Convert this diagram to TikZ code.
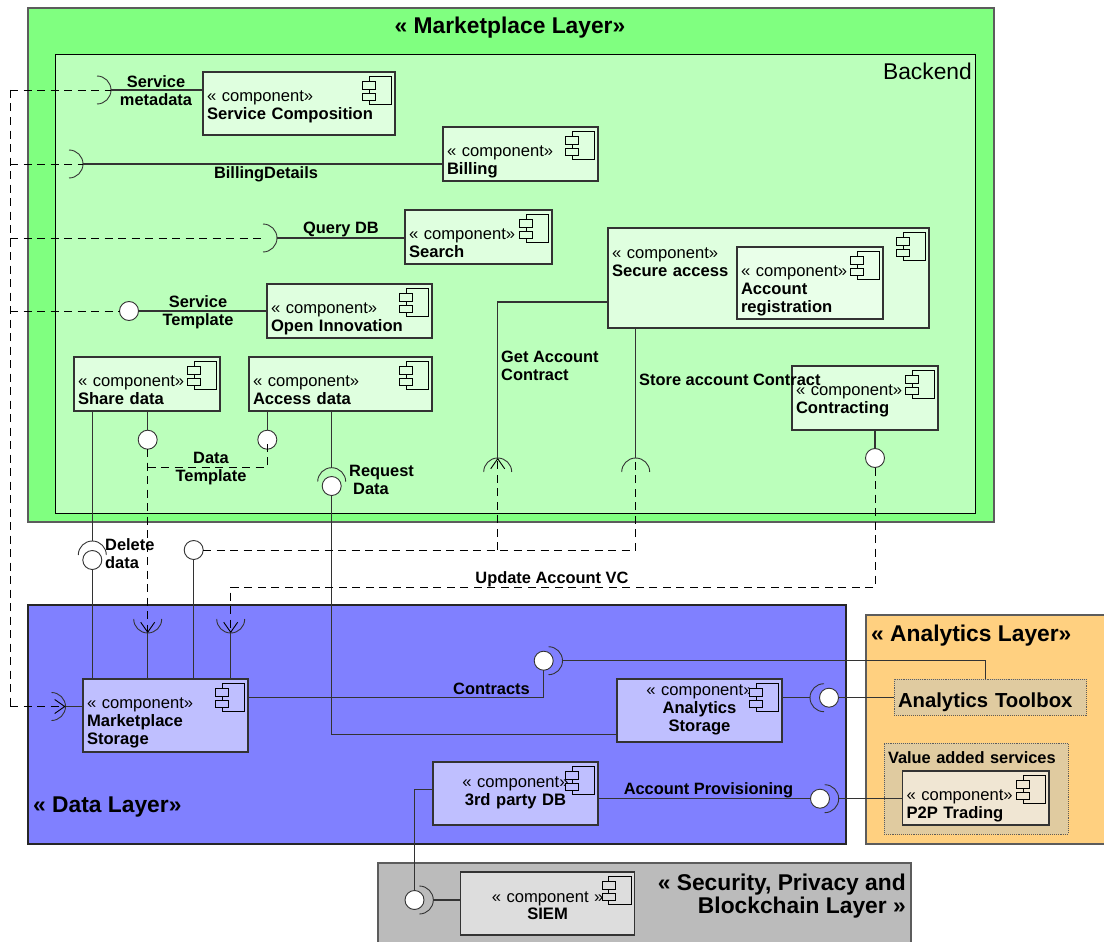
\documentclass[tikz,border=0pt]{standalone}
\usepackage{fontspec}
\setmainfont{Liberation Sans}
\usetikzlibrary{arrows.meta}
\definecolor{marketbg}{HTML}{80FF80}
\definecolor{backendbg}{HTML}{BBFFBB}
\definecolor{compgreen}{HTML}{DFFFDF}
\definecolor{compinner}{HTML}{E9FFE9}
\definecolor{databg}{HTML}{8080FF}
\definecolor{compblue}{HTML}{BFBFFF}
\definecolor{analyticsbg}{HTML}{FFD080}
\definecolor{packbg}{HTML}{E0CBA0}
\definecolor{compsand}{HTML}{F0E6D3}
\definecolor{securitybg}{HTML}{BBBBBB}
\definecolor{compgrey}{HTML}{DDDDDD}
\definecolor{edgegrey}{HTML}{333333}
\tikzset{
  layerbox/.style={draw=edgegrey!80, line width=1.2pt, inner sep=0pt, outer sep=0pt},
  comp/.style n args={3}{draw=edgegrey, line width=1.1pt, inner xsep=4pt, inner ysep=0pt, outer sep=0pt,
    text width=#1pt-8pt, text height=#3pt+.7pt, text depth=#2pt-#3pt-.7pt, align=left,
    font=\fontsize{16.6}{18}\selectfont},
  ball/.style={circle, draw=edgegrey, line width=.9pt, fill=white, minimum size=19pt, inner sep=0pt, outer sep=0pt},
  sockn/.style={circle, minimum size=28pt, inner sep=0pt, outer sep=0pt},
  conn/.style={draw=edgegrey, line width=1.1pt},
  dashconn/.style={draw=black, line width=.9pt, dash pattern=on 8pt off 5.5pt},
  barb/.style={-{Straight Barb[length=10pt,width=14pt]}},
  lbl/.style={font=\fontsize{16.4}{18}\selectfont\bfseries, align=center, inner sep=0pt},
  layertitle/.style={font=\fontsize{22.8}{23}\selectfont\bfseries, inner sep=0pt}
}
\newcommand{\sockarc}[2]{\draw[edgegrey, line width=.9pt] (#1.center) ++(#2-90:14pt) arc[start angle=#2-90, delta angle=180, radius=14pt];}
\newcommand{\compicon}[2]{%
  \draw[black, line width=.8pt] ([shift={(-26pt,-4.7pt)}]#1.north east) rectangle ([shift={(-3.5pt,-32pt)}]#1.north east);
  \draw[black, line width=.8pt, fill=#2] ([shift={(-32.6pt,-9.7pt)}]#1.north east) rectangle ([shift={(-19.3pt,-17pt)}]#1.north east);
  \draw[black, line width=.8pt, fill=#2] ([shift={(-32.6pt,-21pt)}]#1.north east) rectangle ([shift={(-19.3pt,-28pt)}]#1.north east);}
\newcommand{\stereo}{« component»\\}
\begin{document}
\begin{tikzpicture}[x=1pt,y=1pt]
    \useasboundingbox (0,0) rectangle (1104,-942);
    % layers
    \node[layerbox, fill=marketbg, minimum width=966pt, minimum height=514pt] (market) at (511,-265) {};
    \node[layerbox, draw=black, line width=.9pt, fill=backendbg, minimum width=920pt, minimum height=459pt] (backend) at (515,-283.5) {};
    \node[layerbox, draw=black!85, fill=databg, minimum width=818pt, minimum height=239pt] (data) at (437,-724.5) {};
    \node[layerbox, fill=analyticsbg, minimum width=240pt, minimum height=229pt] (analytics) at (986,-729.5) {};
    \node[layerbox, fill=securitybg, minimum width=533pt, minimum height=82pt] (security) at (644.5,-904) {};
    \node[layertitle] (markettitle) at (510,-28) {« Marketplace Layer»};
    \node[font=\fontsize{22.8}{23}\selectfont, inner sep=0pt, anchor=east] (backendtitle) at (972,-71.5) {Backend};
    \node[layertitle, anchor=west] (datatitle) at (33,-807) {« Data Layer»};
    \node[layertitle, anchor=west] (analyticstitle) at (871,-636) {« Analytics Layer»};
    \node[layertitle, anchor=north east, align=right] (securitytitle) at (906,-874) {« Security, Privacy and\\Blockchain Layer »};
    % value added package and its parts
    \node[comp={184}{91}{19.5}, draw=edgegrey!80, densely dotted, line width=.9pt, fill=packbg, font=\fontsize{16.4}{18}\selectfont\bfseries] (value) at (976,-788.5) {Value added services};
    \node[comp={192}{36}{28}, draw=edgegrey!80, densely dotted, line width=.9pt, fill=packbg, font=\fontsize{20.3}{22}\selectfont\bfseries] (toolbox) at (990,-697) {Analytics Toolbox};
    % components
    \node[comp={192}{63}{28.5}, fill=compgreen] (compose) at (299,-103.5) {\stereo\textbf{Service Composition}};
    \node[comp={155}{54}{28.5}, fill=compgreen] (billing) at (520.5,-154) {\stereo\textbf{Billing}};
    \node[comp={147}{54}{28.5}, fill=compgreen] (search) at (478.5,-237) {\stereo\textbf{Search}};
    \node[comp={321}{100}{29.5}, fill=compgreen] (secure) at (768.5,-278) {\stereo\textbf{Secure access}};
    \node[comp={146}{72}{28.5}, fill=compinner] (accreg) at (810,-283) {\stereo\textbf{Account}\\\textbf{registration}};
    \node[comp={165}{54}{28.5}, fill=compgreen] (openinn) at (349.5,-311) {\stereo\textbf{Open Innovation}};
    \node[comp={146}{54}{28.5}, fill=compgreen] (share) at (147,-384) {\stereo\textbf{Share data}};
    \node[comp={183}{54}{28.5}, fill=compgreen] (access) at (340.5,-384) {\stereo\textbf{Access data}};
    \node[comp={146}{64}{28.5}, fill=compgreen] (contracting) at (865,-398) {\stereo\textbf{Contracting}};
    \node[comp={165}{73}{28.5}, fill=compblue] (mstorage) at (165.5,-715.5) {\stereo\textbf{Marketplace}\\\textbf{Storage}};
    \node[comp={165}{63}{15.5}, fill=compblue, align=center] (astorage) at (699.5,-710.5) {\stereo\textbf{Analytics}\\\textbf{Storage}};
    \node[comp={165}{63}{24.5}, fill=compblue, align=center] (thirdparty) at (515.5,-793.5) {\stereo\textbf{3rd party DB}};
    \node[comp={174}{63}{29.5}, fill=compgrey, align=center] (siem) at (547.6,-903.5) {« component »\\[-1pt]\textbf{SIEM}};
    \node[comp={146.5}{54}{28.5}, fill=compsand] (ptwop) at (975.75,-798) {\stereo\textbf{P2P Trading}};
    \compicon{compose}{compgreen}
    \compicon{billing}{compgreen}
    \compicon{search}{compgreen}
    \compicon{secure}{compgreen}
    \compicon{accreg}{compinner}
    \compicon{openinn}{compgreen}
    \compicon{share}{compgreen}
    \compicon{access}{compgreen}
    \compicon{contracting}{compgreen}
    \compicon{mstorage}{compblue}
    \compicon{astorage}{compblue}
    \compicon{thirdparty}{compblue}
    \compicon{siem}{compgrey}
    \compicon{ptwop}{compsand}
    % sockets
    \node[sockn] (smeta) at (97,-90) {};
    \node[sockn] (sbill) at (69,-164) {};
    \node[sockn] (squery) at (263,-238) {};
    \node[sockn] (sdelete) at (92.3,-555) {};
    \node[sockn] (srequest) at (331.7,-481.7) {};
    \node[sockn] (sgetacc) at (497.7,-472) {};
    \node[sockn] (sstore) at (635.7,-472) {};
    \node[sockn] (smarket) at (51.5,-706.5) {};
    \node[sockn] (sshare) at (147.7,-619) {};
    \node[sockn] (supdate) at (230.7,-619) {};
    \node[sockn] (scontr) at (548.5,-660.7) {};
    \node[sockn] (sanalyt) at (824,-697.7) {};
    \node[sockn] (sprov) at (824.7,-798.7) {};
    \node[sockn] (ssiem) at (419.3,-900) {};
    \sockarc{smeta}{0}
    \sockarc{sbill}{0}
    \sockarc{squery}{0}
    \sockarc{sdelete}{90}
    \sockarc{srequest}{90}
    \sockarc{sgetacc}{90}
    \sockarc{sstore}{90}
    \sockarc{smarket}{0}
    \sockarc{sshare}{-90}
    \sockarc{supdate}{-90}
    \sockarc{scontr}{0}
    \sockarc{sanalyt}{180}
    \sockarc{sprov}{0}
    \sockarc{ssiem}{0}
    % balls
    \node[ball] (btemplate) at (129,-311) {};
    \node[ball] (bshare) at (147.7,-439.7) {};
    \node[ball] (baccess) at (267.3,-439.7) {};
    \node[ball] (bdelete) at (92.3,-560) {};
    \node[ball] (brequest) at (331.7,-486) {};
    \node[ball] (bsecure) at (193.7,-550) {};
    \node[ball] (bcontract) at (875,-458) {};
    \node[ball] (bcontr) at (543.7,-660.7) {};
    \node[ball] (banalyt) at (829,-697.7) {};
    \node[ball] (bprov) at (820,-798.7) {};
    \node[ball] (bsiem) at (414.5,-900) {};
    % free ends of the dashed lines
    \coordinate (bus1) at (10,-90);
    \coordinate (bus2) at (10,-164);
    \coordinate (bus3) at (10,-238);
    \coordinate (bus4) at (10,-311);
    \coordinate (bus5) at (10,-706.5);
    \coordinate (dataleft) at (147.7,-467.3);
    \coordinate (getjoin) at (497.7,-550);
    % solid connectors
    \path[conn]
      (smeta.east) edge (smeta.east -| compose.west)
      (sbill.east) edge (sbill.east -| billing.west)
      (squery.east) edge (squery.east -| search.west)
      (btemplate) edge (btemplate -| openinn.west)
      (bshare) edge (bshare |- share.south)
      (baccess) edge (baccess |- access.south)
      (sdelete.north) edge (sdelete.north |- share.south)
      (bdelete) edge (bdelete |- mstorage.north)
      (srequest.north) edge (srequest.north |- access.south)
      (bsecure) edge (bsecure |- mstorage.north)
      (sshare.south) edge (sshare.south |- mstorage.north)
      (supdate.south) edge (supdate.south |- mstorage.north)
      (sstore.north) edge (sstore.north |- secure.south)
      (bcontract) edge (bcontract |- contracting.south)
      (smarket.east) edge (smarket.east -| mstorage.west)
      (sanalyt.west) edge (sanalyt.west -| astorage.east)
      (banalyt) edge (banalyt -| toolbox.west)
      (bprov) edge (bprov -| thirdparty.east)
      (sprov.east) edge (sprov.east -| ptwop.west)
      (ssiem.east) edge (ssiem.east -| siem.west);
    \draw[conn] (sgetacc.north) -- (497.7,-302) -- (497.7,-302 -| secure.west);
    \draw[conn] (brequest) -- (331.7,-734.3) -- (331.7,-734.3 -| astorage.west);
    \draw[conn] (bcontr) -- (543.7,-697.7) -- (543.7,-697.7 -| mstorage.east);
    \draw[conn] (scontr.east) -| (toolbox.north -| 985.5,0);
    \draw[conn] (bsiem) -- (414.5,-789.3) -- (414.5,-789.3 -| thirdparty.west);
    % dashed connectors
    \path[dashconn]
      (bus1) edge (smeta.east)
      (bus2) edge (sbill.east)
      (bus3) edge (squery.center)
      (bus4) edge (btemplate)
      (bus1) edge (bus5)
      (bshare) edge[barb] (sshare.south)
      (bshare) edge (dataleft);
    \draw[dashconn, barb] (bus5) -- (smarket.east);
    \draw[dashconn] (dataleft) -| (baccess.center);
    \draw[dashconn] (bsecure) -| (sstore.north);
    \draw[dashconn, barb] (getjoin) -- (sgetacc.north);
    \draw[dashconn, barb] (bcontract) |- (230.7,-587) -- (supdate.south);
    % connector labels
    \node[lbl] (lmeta) at (156,-90.5) {Service\\metadata};
    \node[lbl] (lbill) at (266,-174) {BillingDetails};
    \node[lbl] (lquery) at (341,-229) {Query DB};
    \node[lbl] (ltemplate) at (198,-312) {Service\\Template};
    \node[lbl, anchor=west, align=left] (lgetacc) at (501,-366) {Get Account\\Contract};
    \node[lbl, anchor=west] (lstore) at (639,-380) {Store account Contract};
    \node[lbl] (ldata) at (211,-468.5) {Data\\Template};
    \node[lbl, anchor=west, align=left] (lrequest) at (349,-480) {Request\\\hspace*{4pt}Data};
    \node[lbl, anchor=west, align=left] (ldelete) at (105,-553.5) {Delete\\data};
    \node[lbl] (lupdate) at (552,-579) {Update Account VC};
    \node[lbl] (lcontracts) at (491.5,-689) {Contracts};
    \node[lbl] (lprov) at (708.5,-790) {Account Provisioning};
\end{tikzpicture}
\end{document}
